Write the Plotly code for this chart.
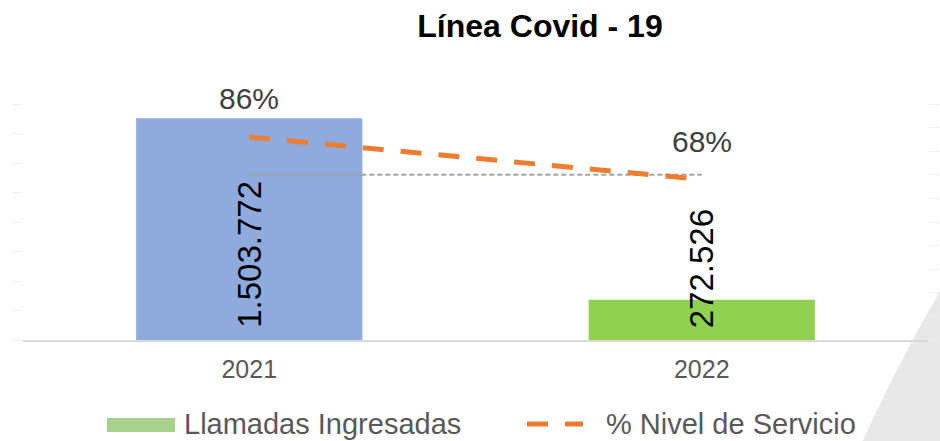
import plotly.graph_objects as go

categories = ["2021", "2022"]
llamadas = [1503772, 272526]
nivel_servicio = [0.86, 0.68]
meta_servicio = [0.70, 0.70]
legend_names = ["Llamadas Ingresadas", "% Nivel de Servicio"]
title_text = "Línea Covid - 19"

FONT = "Liberation Sans, Arial, sans-serif"
W, H = 940, 441
ML, MR, MT, MB = 23, 12, 104, 101
PW, PH = W - ML - MR, H - MT - MB


def px(x):
    return (x - ML) / PW


def py(y):
    return (H - MB - y) / PH


fig = go.Figure()
fig.add_trace(go.Bar(
    x=categories, y=llamadas, width=0.5,
    marker=dict(color=["#8FAADC", "#92D050"], line=dict(width=0)),
    name=legend_names[0], showlegend=False, hoverinfo="skip",
))
fig.add_trace(go.Scatter(
    x=categories, y=meta_servicio, yaxis="y2", mode="lines",
    line=dict(color="#A5A5A5", width=2, dash="5px,3px"),
    showlegend=False, hoverinfo="skip",
))
fig.add_trace(go.Scatter(
    x=categories, y=nivel_servicio, yaxis="y2", mode="lines",
    line=dict(color="#ED7D31", width=5, dash="21px,17px"),
    name=legend_names[1], showlegend=False, hoverinfo="skip",
))

annotations = []
for i, v in enumerate(nivel_servicio):
    annotations.append(dict(
        x=i, y=v, xref="x", yref="y2", text=f"{round(v * 100)}%",
        showarrow=False, yanchor="bottom", yshift=20,
        font=dict(family=FONT, size=30, color="#404040"),
    ))
for i, v in enumerate(llamadas):
    annotations.append(dict(
        x=i, y=0, xref="x", yref="y", text=f"{v:,}".replace(",", "."),
        showarrow=False, textangle=-90, yanchor="bottom", yshift=10,
        font=dict(family=FONT, size=33, color="#000000"),
    ))

# legend (drawn manually)
annotations.append(dict(
    x=px(182), y=py(424), xref="paper", yref="paper", text=legend_names[0],
    showarrow=False, xanchor="left", yanchor="middle",
    font=dict(family=FONT, size=29, color="#595959"),
))
annotations.append(dict(
    x=px(604), y=py(424), xref="paper", yref="paper", text=legend_names[1],
    showarrow=False, xanchor="left", yanchor="middle",
    font=dict(family=FONT, size=29, color="#595959"),
))

shapes = [
    dict(type="path", xref="paper", yref="paper", layer="below",
         path=(f"M {px(942)},{py(288)} Q {px(905)},{py(350)} {px(862)},{py(442)} "
               f"L {px(960)},{py(442)} L {px(960)},{py(288)} Z"),
         fillcolor="#E8E8E8", line=dict(width=0)),
    dict(type="rect", xref="paper", yref="paper",
         x0=px(107), x1=px(175), y0=py(432), y1=py(418),
         fillcolor="#A9D18E", line=dict(width=0)),
    dict(type="line", xref="paper", yref="paper",
         x0=px(527), x1=px(583), y0=py(424), y1=py(424),
         line=dict(color="#ED7D31", width=5, dash="21px,17px")),
]

fig.update_layout(
    width=W, height=H,
    margin=dict(l=ML, r=MR, t=MT, b=MB, autoexpand=False),
    paper_bgcolor="white", plot_bgcolor="white",
    title=dict(text=f"<b>{title_text}</b>", x=540 / W, xref="container", xanchor="center",
               y=1 - 26 / H, yanchor="middle",
               font=dict(family=FONT, size=32, color="#000000")),
    xaxis=dict(type="category", range=[-0.5, 1.5], showline=True, linecolor="#D9D9D9",
               linewidth=1.5, showgrid=False, ticks="", zeroline=False, automargin=False,
               ticklabelstandoff=6,
               tickfont=dict(family=FONT, size=25, color="#595959")),
    yaxis=dict(range=[0, 1600000], dtick=200000, showticklabels=False, showgrid=False,
               zeroline=False, ticks="outside", ticklen=10, tickcolor="#F0F0F0",
               automargin=False),
    yaxis2=dict(range=[0, 1], dtick=0.1, overlaying="y", side="right", showticklabels=False,
                showgrid=False, zeroline=False, ticks="outside", ticklen=10, tickcolor="#F0F0F0",
                automargin=False),
    showlegend=False,
    annotations=annotations,
    shapes=shapes,
)

fig.write_html("out.html", config={"displayModeBar": False},
               post_script="document.body.style.margin='0';document.body.style.overflow='hidden';")
